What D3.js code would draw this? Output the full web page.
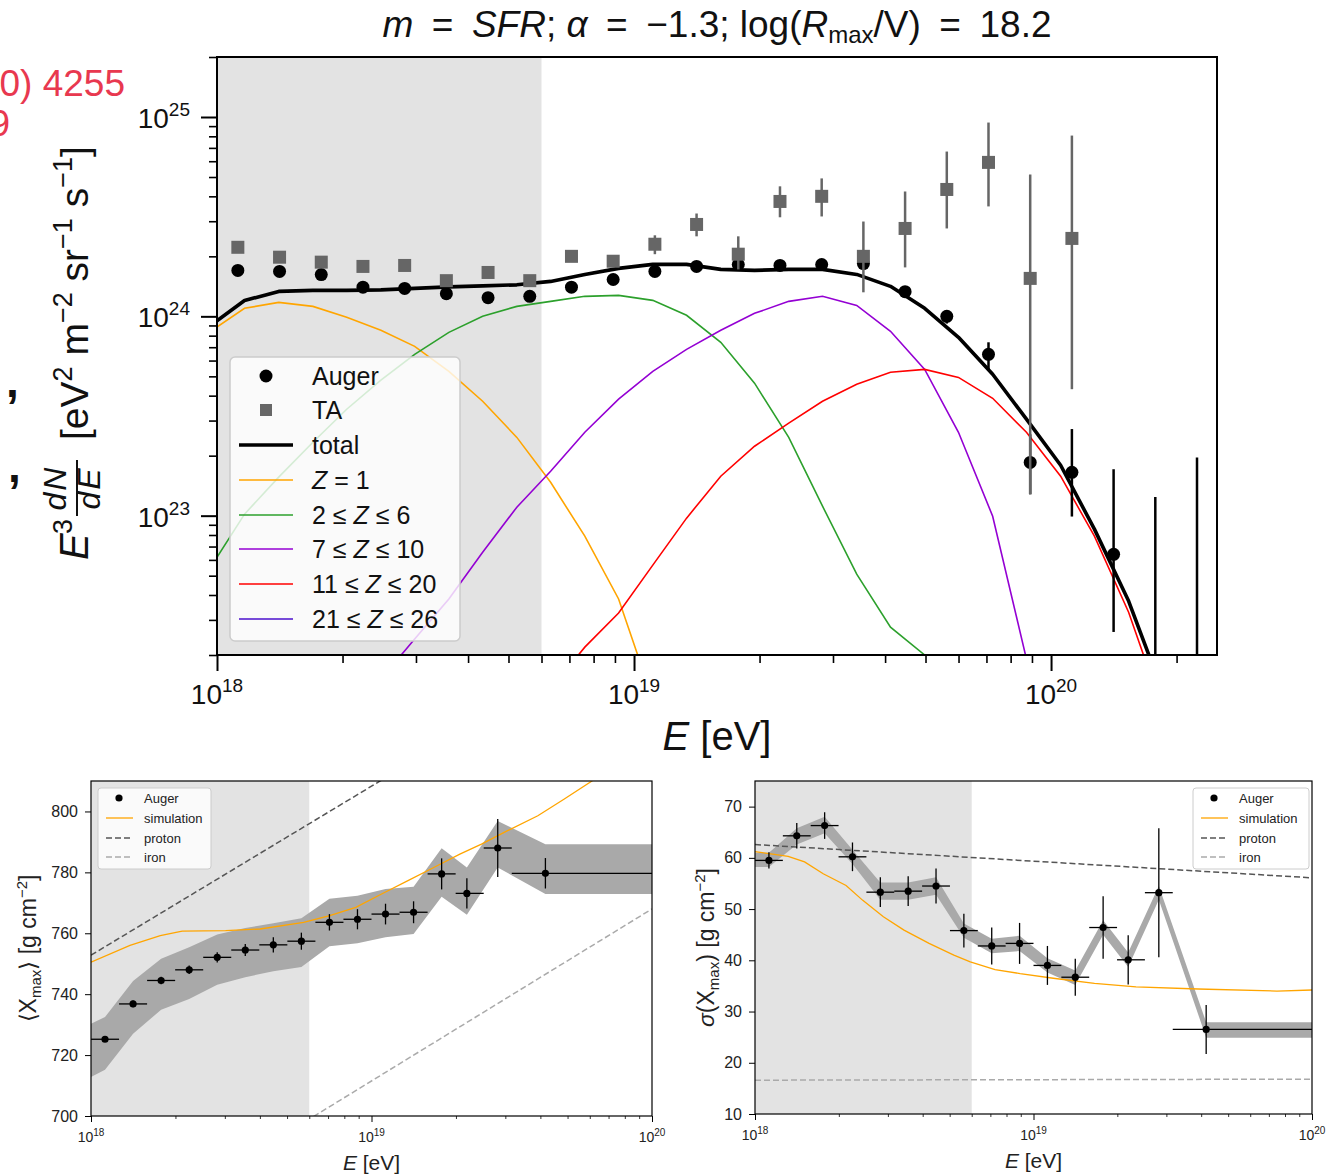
<!DOCTYPE html>
<html><head><meta charset="utf-8">
<script src="https://cdn.jsdelivr.net/npm/d3@7/dist/d3.min.js"></script>
<style>
body{margin:0;background:#fff;}
svg text{font-family:'Liberation Sans',Arial,sans-serif;}
</style></head><body>
<svg id="chart" width="1330" height="1175" xmlns="http://www.w3.org/2000/svg"></svg>
<script>
// ================= DATA =================
// --- top panel: spectrum ---
const augerLogE=[18.05,18.15,18.25,18.35,18.45,18.55,18.65,18.75,18.85,18.95,19.05,19.15,19.25,19.35,19.45,19.55,19.65,19.75,19.85,19.95,20.05,20.15];
const augerFlux=[1.70e24,1.68e24,1.62e24,1.40e24,1.38e24,1.30e24,1.24e24,1.26e24,1.40e24,1.53e24,1.68e24,1.78e24,1.82e24,1.80e24,1.82e24,1.84e24,1.33e24,1.00e24,6.45e23,1.85e23,1.65e23,6.4e22];
const augerLo=[1.66e24,1.64e24,1.58e24,1.37e24,1.35e24,1.27e24,1.21e24,1.23e24,1.37e24,1.50e24,1.64e24,1.74e24,1.77e24,1.75e24,1.76e24,1.77e24,1.27e24,9.2e23,5.42e23,1.28e23,9.9e22,2.61e22];
const augerHi=[1.74e24,1.72e24,1.66e24,1.43e24,1.41e24,1.33e24,1.27e24,1.29e24,1.43e24,1.56e24,1.72e24,1.82e24,1.87e24,1.85e24,1.88e24,1.91e24,1.40e24,1.07e24,7.41e23,2.56e23,2.72e23,1.71e23];
const augerLimitLogE=[20.25,20.35];
const augerLimitHi=[1.24e23,1.96e23];

const taLogE=[18.05,18.15,18.25,18.35,18.45,18.55,18.65,18.75,18.85,18.95,19.05,19.15,19.25,19.35,19.45,19.55,19.65,19.75,19.85,19.95,20.05];
const taFlux=[2.22e24,1.98e24,1.87e24,1.78e24,1.80e24,1.51e24,1.66e24,1.51e24,2.00e24,1.89e24,2.30e24,2.89e24,2.05e24,3.77e24,4.00e24,2.00e24,2.76e24,4.33e24,5.92e24,1.55e24,2.46e24];
const taLo=[2.17e24,1.94e24,1.83e24,1.74e24,1.76e24,1.47e24,1.61e24,1.45e24,1.92e24,1.80e24,2.05e24,2.52e24,1.72e24,3.14e24,3.17e24,1.32e24,1.76e24,2.76e24,3.56e24,1.28e23,4.31e23];
const taHi=[2.27e24,2.02e24,1.91e24,1.82e24,1.84e24,1.55e24,1.71e24,1.57e24,2.08e24,1.98e24,2.55e24,3.28e24,2.52e24,4.49e24,4.92e24,2.99e24,4.23e24,6.71e24,9.38e24,5.15e24,8.07e24];

const modelLogE=[17.985,18.066,18.148,18.230,18.311,18.393,18.474,18.556,18.637,18.719,18.800,18.882,18.963,19.045,19.126,19.208,19.289,19.371,19.452,19.534,19.615,19.697,19.778,19.860,19.941,20.023,20.104,20.186,20.267];
const fluxTotal=[9.01e23,1.20e24,1.334e24,1.35e24,1.35e24,1.358e24,1.382e24,1.406e24,1.422e24,1.439e24,1.497e24,1.623e24,1.740e24,1.822e24,1.822e24,1.720e24,1.701e24,1.720e24,1.720e24,1.623e24,1.414e24,1.097e24,7.85e23,5.12e23,3.05e23,1.79e23,8.56e22,3.73e22,1.32e22];
const fluxZ1=[8.41e23,1.097e24,1.175e24,1.122e24,9.89e23,8.51e23,7.07e23,5.30e23,3.75e23,2.47e23,1.47e23,7.89e22,3.82e22,1.20e22,null,null,null,null,null,null,null,null,null,null,null,null,null,null,null];
const fluxZ2to6=[5.52e22,1.018e23,1.560e23,2.336e23,3.42e23,4.78e23,6.45e23,8.31e23,1.0e24,1.122e24,1.189e24,1.260e24,1.274e24,1.203e24,1.012e24,7.41e23,4.62e23,2.47e23,1.116e23,5.09e22,2.76e22,2.00e22,1.35e22,null,null,null,null,null,null];
const fluxZ7to10=[null,null,null,null,null,1.515e22,2.405e22,3.82e22,6.56e22,1.103e23,1.671e23,2.62e23,3.84e23,5.30e23,6.83e23,8.51e23,1.035e24,1.189e24,1.260e24,1.135e24,8.41e23,5.42e23,2.62e23,9.94e22,1.91e22,2.13e21,null,null,null];
const fluxZ11to20=[null,null,null,null,null,null,null,null,null,null,1.35e22,2.19e22,3.25e22,5.65e22,9.72e22,1.578e23,2.23e23,2.91e23,3.75e23,4.56e23,5.24e23,5.42e23,4.94e23,3.88e23,2.62e23,1.578e23,7.89e22,3.28e22,1.07e22];
const fluxZ21to26=[]; // below the plotted range

const topMajorX=[1e18,1e19,1e20];
const topMinorX=[2e18,3e18,4e18,5e18,6e18,7e18,8e18,9e18,2e19,3e19,4e19,5e19,6e19,7e19,8e19,9e19,2e20];
const topMajorY=[1e23,1e24,1e25];
const topMinorY=[2e22,3e22,4e22,5e22,6e22,7e22,8e22,9e22,2e23,3e23,4e23,5e23,6e23,7e23,8e23,9e23,2e24,3e24,4e24,5e24,6e24,7e24,8e24,9e24,2e25];
const shadeMaxE=6e18;

// --- bottom panels: composition ---
const compLogE=[18.05,18.15,18.25,18.35,18.45,18.55,18.65,18.75,18.85,18.95,19.05,19.15,19.25,19.34,19.45,19.62];
const compBinLo=[18.0,18.1,18.2,18.3,18.4,18.5,18.6,18.7,18.8,18.9,19.0,19.1,19.2,19.3,19.4,19.5];
const compBinHi=[18.1,18.2,18.3,18.4,18.5,18.6,18.7,18.8,18.9,19.0,19.1,19.2,19.3,19.4,19.5,20.0];
const bandLogE=[18.0,18.05,18.15,18.25,18.35,18.45,18.55,18.65,18.75,18.85,18.95,19.05,19.15,19.25,19.34,19.45,19.62,20.0];

const xmaxVal=[725.2,736.8,744.5,748.0,752.1,754.5,756.2,757.4,763.6,764.6,766.3,766.9,779.5,773.1,788.0,779.7];
const xmaxStat=[0.8,1.1,1.2,1.4,1.7,2.0,2.5,2.8,2.7,3.3,3.4,3.6,5.1,5.0,9.5,5.0];
const xmaxBandHi=[730.3,732.5,744.3,751.6,755.4,759.6,761.7,763.3,764.9,771.3,772.3,774.5,775.3,787.9,781.6,796.9,789.2,789.2];
const xmaxBandLo=[712.8,715.2,727.0,734.9,738.4,743.1,745.6,747.5,748.9,755.7,756.7,758.7,759.8,772.0,766.1,781.6,772.9,772.9];
const xmaxSimLogE=[18.0,18.139,18.247,18.325,18.48,18.603,18.758,18.851,18.944,19.036,19.13,19.222,19.315,19.392,19.485,19.593,19.686,19.786,19.9];
const xmaxSim=[750.5,756.0,759.2,760.7,760.9,761.4,763.6,765.8,768.5,772.9,777.3,781.6,786.0,789.3,793.7,798.6,804.0,810.0,818.0];
const lineLogE=[18.0,20.0];
const xmaxProton=[752.8,863.8];
const xmaxIron=[655.0,768.0];
const xmaxTicks=[700,720,740,760,780,800];

const sigVal=[59.5,64.3,66.3,60.2,53.3,53.5,54.5,45.8,42.8,43.3,39.0,36.7,46.4,40.1,53.2,26.5];
const sigStat=[1.6,2.5,2.6,2.8,2.9,2.9,3.4,3.3,3.6,4.0,3.8,3.6,6.1,4.8,12.6,4.8];
const sigBandHi=[61.0,61.0,65.8,68.0,61.6,55.2,55.2,56.2,47.2,44.2,44.8,40.4,38.0,47.8,41.5,54.5,27.9,27.9];
const sigBandLo=[58.2,58.2,62.6,64.8,58.8,51.8,51.8,52.8,44.4,41.4,41.8,37.6,35.2,45.0,38.7,51.8,24.9,24.9];
const sigSimLogE=[18.0,18.119,18.178,18.245,18.327,18.387,18.461,18.535,18.625,18.714,18.773,18.862,18.952,19.071,19.219,19.368,19.591,19.874,20.0];
const sigSim=[61.2,60.3,59.2,56.9,54.6,51.7,48.5,45.9,43.3,41.0,39.7,38.2,37.4,36.5,35.5,34.8,34.4,34.0,34.2];
const sigProton=[62.6,56.1];
const sigIron=[16.6,16.8];
const sigTicks=[10,20,30,40,50,60,70];

const botMajorX=[1e18,1e19,1e20];
const botMinorX=[2e18,3e18,4e18,5e18,6e18,7e18,8e18,9e18,2e19,3e19,4e19,5e19,6e19,7e19,8e19,9e19];

// ================= HELPERS =================
const svg=d3.select('#chart');
function rich(text,parts,base){
  let off=0;
  parts.forEach(p=>{
    let target=0;
    if(p.s==='sup') target=-(p.shift!=null?p.shift:0.42*base);
    if(p.s==='sub') target=(p.shift!=null?p.shift:0.2*base);
    const ts=text.append('tspan').text(p.t).attr('dy',target-off);
    off=target;
    if(p.s) ts.attr('font-size',p.size||0.7*base);
    if(p.size&&!p.s) ts.attr('font-size',p.size);
    if(p.i) ts.attr('font-style','italic');
  });
  return text;
}
const E=v=>Math.pow(10,v);

// ================= stray text fragments on the left =================
svg.append('text').attr('x',125).attr('y',96).attr('text-anchor','end').attr('font-size',37).style('fill','#e8384f').text('(2020) 4255');
svg.append('text').attr('x',10).attr('y',136).attr('text-anchor','end').attr('font-size',37).style('fill','#e8384f').text('9');
svg.append('text').attr('x',6).attr('y',397).attr('font-size',46).attr('font-weight','bold').style('fill','#111').text(',');
svg.append('text').attr('x',8).attr('y',482).attr('font-size',46).attr('font-weight','bold').style('fill','#111').text(',');

// ================= TOP PANEL =================
const T={l:217,r:1217,t:57,b:655};
const xT=d3.scaleLog().domain([1e18,2.5e20]).range([T.l,T.r]);
const yT=d3.scaleLog().domain([2e22,2e25]).range([T.b,T.t]);
svg.append('clipPath').attr('id','clipT').append('rect').attr('x',T.l).attr('y',T.t).attr('width',T.r-T.l).attr('height',T.b-T.t);
svg.append('rect').attr('x',xT(1e18)).attr('y',T.t).attr('width',xT(shadeMaxE)-xT(1e18)).attr('height',T.b-T.t).attr('fill','#e3e3e3');
const pT=svg.append('g').attr('clip-path','url(#clipT)');
const lineT=d3.line().defined(d=>d[1]!=null).x(d=>xT(E(d[0]))).y(d=>yT(d[1]));
const comps=[
  {vals:fluxZ1,color:'#ffa500',label:[{t:'Z',i:true},{t:' = 1'}]},
  {vals:fluxZ2to6,color:'#2ca02c',label:[{t:'2 ≤ '},{t:'Z',i:true},{t:' ≤ 6'}]},
  {vals:fluxZ7to10,color:'#9400d3',label:[{t:'7 ≤ '},{t:'Z',i:true},{t:' ≤ 10'}]},
  {vals:fluxZ11to20,color:'#ff0000',label:[{t:'11 ≤ '},{t:'Z',i:true},{t:' ≤ 20'}]},
  {vals:fluxZ21to26,color:'#4b0fcc',label:[{t:'21 ≤ '},{t:'Z',i:true},{t:' ≤ 26'}]}
];
comps.forEach(c=>{
  const d=modelLogE.map((e,i)=>[e,c.vals[i]!==undefined?c.vals[i]:null]);
  if(d.some(p=>p[1]!=null)) pT.append('path').datum(d).attr('d',lineT).attr('fill','none').attr('stroke',c.color).attr('stroke-width',1.6);
});
pT.append('path').datum(modelLogE.map((e,i)=>[e,fluxTotal[i]])).attr('d',lineT).attr('fill','none').attr('stroke','#000').attr('stroke-width',3.6).attr('stroke-linejoin','round');
// Auger
augerLogE.forEach((e,i)=>{
  pT.append('line').attr('x1',xT(E(e))).attr('x2',xT(E(e))).attr('y1',yT(augerLo[i])).attr('y2',yT(augerHi[i])).attr('stroke','#000').attr('stroke-width',2.5);
});
augerLimitLogE.forEach((e,i)=>{
  pT.append('line').attr('x1',xT(E(e))).attr('x2',xT(E(e))).attr('y1',yT(1e21)).attr('y2',yT(augerLimitHi[i])).attr('stroke','#000').attr('stroke-width',2.5);
});
augerLogE.forEach((e,i)=>{
  pT.append('circle').attr('cx',xT(E(e))).attr('cy',yT(augerFlux[i])).attr('r',6.5).attr('fill','#000');
});
// TA
taLogE.forEach((e,i)=>{
  pT.append('line').attr('x1',xT(E(e))).attr('x2',xT(E(e))).attr('y1',yT(taLo[i])).attr('y2',yT(taHi[i])).attr('stroke','#666').attr('stroke-width',2.5);
});
taLogE.forEach((e,i)=>{
  pT.append('rect').attr('x',xT(E(e))-6.5).attr('y',yT(taFlux[i])-6.5).attr('width',13).attr('height',13).attr('fill','#666');
});
// legend
const LG={x:230,y:357,w:230,h:284};
svg.append('rect').attr('x',LG.x).attr('y',LG.y).attr('width',LG.w).attr('height',LG.h).attr('rx',5).attr('fill','#fff').attr('fill-opacity',0.8).attr('stroke','#cccccc').attr('stroke-width',1.5);
const rowY=[376,410,445,480,515,549,584,619];
const lgText=(i,parts)=>rich(svg.append('text').attr('x',312).attr('y',rowY[i]+9).attr('font-size',25).style('fill','#111'),parts,25);
svg.append('circle').attr('cx',266).attr('cy',rowY[0]).attr('r',6.5).attr('fill','#000');
lgText(0,[{t:'Auger'}]);
svg.append('rect').attr('x',260).attr('y',rowY[1]-6).attr('width',12).attr('height',12).attr('fill','#666');
lgText(1,[{t:'TA'}]);
svg.append('line').attr('x1',239).attr('x2',293).attr('y1',rowY[2]).attr('y2',rowY[2]).attr('stroke','#000').attr('stroke-width',3.6);
lgText(2,[{t:'total'}]);
comps.forEach((c,k)=>{
  svg.append('line').attr('x1',239).attr('x2',293).attr('y1',rowY[3+k]).attr('y2',rowY[3+k]).attr('stroke',c.color).attr('stroke-width',1.6);
  lgText(3+k,c.label);
});
// axes
function styleAxis(g,w){g.select('.domain').remove();g.selectAll('line').attr('stroke','#000').attr('stroke-width',w);}
svg.append('g').attr('transform',`translate(0,${T.b})`).call(d3.axisBottom(xT).tickValues(topMajorX).tickSize(16).tickFormat('')).call(g=>styleAxis(g,2));
svg.append('g').attr('transform',`translate(0,${T.b})`).call(d3.axisBottom(xT).tickValues(topMinorX).tickSize(8).tickFormat('')).call(g=>styleAxis(g,1.6));
svg.append('g').attr('transform',`translate(${T.l},0)`).call(d3.axisLeft(yT).tickValues(topMajorY).tickSize(16).tickFormat('')).call(g=>styleAxis(g,2));
svg.append('g').attr('transform',`translate(${T.l},0)`).call(d3.axisLeft(yT).tickValues(topMinorY).tickSize(8).tickFormat('')).call(g=>styleAxis(g,1.6));
svg.append('rect').attr('x',T.l).attr('y',T.t).attr('width',T.r-T.l).attr('height',T.b-T.t).attr('fill','none').attr('stroke','#000').attr('stroke-width',2);
topMajorX.forEach(v=>{
  rich(svg.append('text').attr('x',xT(v)).attr('y',T.b+49).attr('text-anchor','middle').attr('font-size',28).style('fill','#111'),
    [{t:'10'},{t:String(Math.round(Math.log10(v))),s:'sup',size:19,shift:12}],28);
});
topMajorY.forEach(v=>{
  rich(svg.append('text').attr('x',190).attr('y',yT(v)+11).attr('text-anchor','end').attr('font-size',28).style('fill','#111'),
    [{t:'10'},{t:String(Math.round(Math.log10(v))),s:'sup',size:19,shift:12}],28);
});
// title
const ES='\u2002';
rich(svg.append('text').attr('x',717).attr('y',37).attr('text-anchor','middle').attr('font-size',37).style('fill','#111'),
  [{t:'m',i:true},{t:ES+'='+ES},{t:'SFR',i:true},{t:'; '},{t:'α',i:true},{t:ES+'='+ES+'−1.3; log('},{t:'R',i:true},{t:'max',s:'sub',size:24,shift:6},{t:'/V)'+ES+'='+ES+'18.2'}],37);
// x label
rich(svg.append('text').attr('x',717).attr('y',750).attr('text-anchor','middle').attr('font-size',40).style('fill','#111'),
  [{t:'E',i:true},{t:' [eV]'}],40);
// y label
const yl=svg.append('g').attr('transform','translate(88,352) rotate(-90)');
yl.append('text').attr('x',-208).attr('y',0).attr('font-size',40).attr('font-style','italic').style('fill','#111').text('E');
yl.append('text').attr('x',-182).attr('y',-16).attr('font-size',27).style('fill','#111').text('3');
yl.append('text').attr('x',-136).attr('y',-22).attr('text-anchor','middle').attr('font-size',32).attr('letter-spacing',2).attr('font-style','italic').style('fill','#111').text('dN');
yl.append('line').attr('x1',-164).attr('x2',-108).attr('y1',-11).attr('y2',-11).attr('stroke','#111').attr('stroke-width',2);
yl.append('text').attr('x',-136).attr('y',12).attr('text-anchor','middle').attr('font-size',32).attr('letter-spacing',2).attr('font-style','italic').style('fill','#111').text('dE');
rich(yl.append('text').attr('x',-88).attr('y',0).attr('font-size',39).style('fill','#111'),
  [{t:'[eV'},{t:'2',s:'sup',size:27,shift:16},{t:' m'},{t:'−2',s:'sup',size:27,shift:16},{t:' sr'},{t:'−1',s:'sup',size:27,shift:16},{t:' s'},{t:'−1',s:'sup',size:27,shift:16},{t:']'}],39);

// ================= BOTTOM PANELS =================
function panel(o){
  const x=d3.scaleLog().domain([1e18,1e20]).range([o.l,o.r]);
  const y=d3.scaleLinear().domain(o.yDom).range([o.b,o.t]);
  const cid='clip'+o.id;
  svg.append('clipPath').attr('id',cid).append('rect').attr('x',o.l).attr('y',o.t).attr('width',o.r-o.l).attr('height',o.b-o.t);
  svg.append('rect').attr('x',o.l).attr('y',o.t).attr('width',x(shadeMaxE)-o.l).attr('height',o.b-o.t).attr('fill','#e3e3e3');
  const g=svg.append('g').attr('clip-path',`url(#${cid})`);
  g.append('path').datum(bandLogE.map((e,i)=>({e,lo:o.bandLo[i],hi:o.bandHi[i]})))
    .attr('d',d3.area().x(d=>x(E(d.e))).y0(d=>y(d.lo)).y1(d=>y(d.hi))).attr('fill','#a9a9a9');
  const ln=d3.line().x(d=>x(E(d[0]))).y(d=>y(d[1]));
  g.append('path').datum(lineLogE.map((e,i)=>[e,o.proton[i]])).attr('d',ln).attr('fill','none').attr('stroke','#555').attr('stroke-width',1.5).attr('stroke-dasharray','6,3');
  g.append('path').datum(lineLogE.map((e,i)=>[e,o.iron[i]])).attr('d',ln).attr('fill','none').attr('stroke','#aaa').attr('stroke-width',1.5).attr('stroke-dasharray','6,3');
  g.append('path').datum(o.simE.map((e,i)=>[e,o.sim[i]])).attr('d',ln).attr('fill','none').attr('stroke','#ffa500').attr('stroke-width',1.3);
  compLogE.forEach((e,i)=>{
    g.append('line').attr('x1',x(E(compBinLo[i]))).attr('x2',x(E(compBinHi[i]))).attr('y1',y(o.val[i])).attr('y2',y(o.val[i])).attr('stroke','#000').attr('stroke-width',1.3);
    g.append('line').attr('x1',x(E(e))).attr('x2',x(E(e))).attr('y1',y(o.val[i]-o.stat[i])).attr('y2',y(o.val[i]+o.stat[i])).attr('stroke','#000').attr('stroke-width',1.3);
    g.append('circle').attr('cx',x(E(e))).attr('cy',y(o.val[i])).attr('r',3.6).attr('fill','#000');
  });
  // legend
  const L=o.legend;
  svg.append('rect').attr('x',L.x).attr('y',L.y).attr('width',L.w).attr('height',81).attr('rx',3).attr('fill','#fff').attr('fill-opacity',0.8).attr('stroke','#cccccc').attr('stroke-width',1);
  const ry=[L.y+10,L.y+30,L.y+50,L.y+69];
  const hx=L.x+8, tx=L.x+46;
  svg.append('circle').attr('cx',hx+13).attr('cy',ry[0]).attr('r',3.6).attr('fill','#000');
  svg.append('line').attr('x1',hx).attr('x2',hx+27).attr('y1',ry[1]).attr('y2',ry[1]).attr('stroke','#ffa500').attr('stroke-width',1.3);
  svg.append('line').attr('x1',hx).attr('x2',hx+27).attr('y1',ry[2]).attr('y2',ry[2]).attr('stroke','#555').attr('stroke-width',1.5).attr('stroke-dasharray','6,3');
  svg.append('line').attr('x1',hx).attr('x2',hx+27).attr('y1',ry[3]).attr('y2',ry[3]).attr('stroke','#aaa').attr('stroke-width',1.5).attr('stroke-dasharray','6,3');
  ['Auger','simulation','proton','iron'].forEach((t,k)=>svg.append('text').attr('x',tx).attr('y',ry[k]+5).attr('font-size',13).style('fill','#222').text(t));
  // axes
  svg.append('g').attr('transform',`translate(0,${o.b})`).call(d3.axisBottom(x).tickValues(botMajorX).tickSize(6).tickFormat('')).call(gg=>styleAxis(gg,1));
  svg.append('g').attr('transform',`translate(0,${o.b})`).call(d3.axisBottom(x).tickValues(botMinorX).tickSize(3).tickFormat('')).call(gg=>styleAxis(gg,0.8));
  svg.append('g').attr('transform',`translate(${o.l},0)`).call(d3.axisLeft(y).tickValues(o.ticks).tickSize(6).tickFormat('')).call(gg=>styleAxis(gg,1));
  svg.append('rect').attr('x',o.l).attr('y',o.t).attr('width',o.r-o.l).attr('height',o.b-o.t).attr('fill','none').attr('stroke','#000').attr('stroke-width',1.2);
  botMajorX.forEach(v=>{
    rich(svg.append('text').attr('x',x(v)).attr('y',o.b+26).attr('text-anchor','middle').attr('font-size',14).style('fill','#222'),
      [{t:'10'},{t:String(Math.round(Math.log10(v))),s:'sup',size:10,shift:6}],14);
  });
  o.ticks.forEach(v=>svg.append('text').attr('x',o.l-13).attr('y',y(v)+5.5).attr('text-anchor','end').attr('font-size',16).style('fill','#222').text(v));
  rich(svg.append('text').attr('x',(o.l+o.r)/2).attr('y',o.b+54).attr('text-anchor','middle').attr('font-size',21).style('fill','#222'),
    [{t:'E',i:true},{t:' [eV]'}],21);
  rich(svg.append('text').attr('transform',`translate(${o.ylx},${(o.t+o.b)/2}) rotate(-90)`).attr('text-anchor','middle').attr('font-size',23).style('fill','#222'),
    o.ylabel,23);
}
panel({id:'L',l:91,r:652,t:781,b:1116,yDom:[700,810],ticks:xmaxTicks,val:xmaxVal,stat:xmaxStat,bandHi:xmaxBandHi,bandLo:xmaxBandLo,
  simE:xmaxSimLogE,sim:xmaxSim,proton:xmaxProton,iron:xmaxIron,legend:{x:98,y:788,w:113},ylx:36,
  ylabel:[{t:'⟨X'},{t:'max',s:'sub',size:15,shift:5},{t:'⟩ [g cm'},{t:'−2',s:'sup',size:15,shift:9},{t:']'}]});
panel({id:'R',l:755,r:1312,t:781,b:1114,yDom:[10,75],ticks:sigTicks,val:sigVal,stat:sigStat,bandHi:sigBandHi,bandLo:sigBandLo,
  simE:sigSimLogE,sim:sigSim,proton:sigProton,iron:sigIron,legend:{x:1193,y:788,w:116},ylx:714,
  ylabel:[{t:'σ',i:true},{t:'(X'},{t:'max',s:'sub',size:15,shift:5},{t:') [g cm'},{t:'−2',s:'sup',size:15,shift:9},{t:']'}]});
</script></body></html>
